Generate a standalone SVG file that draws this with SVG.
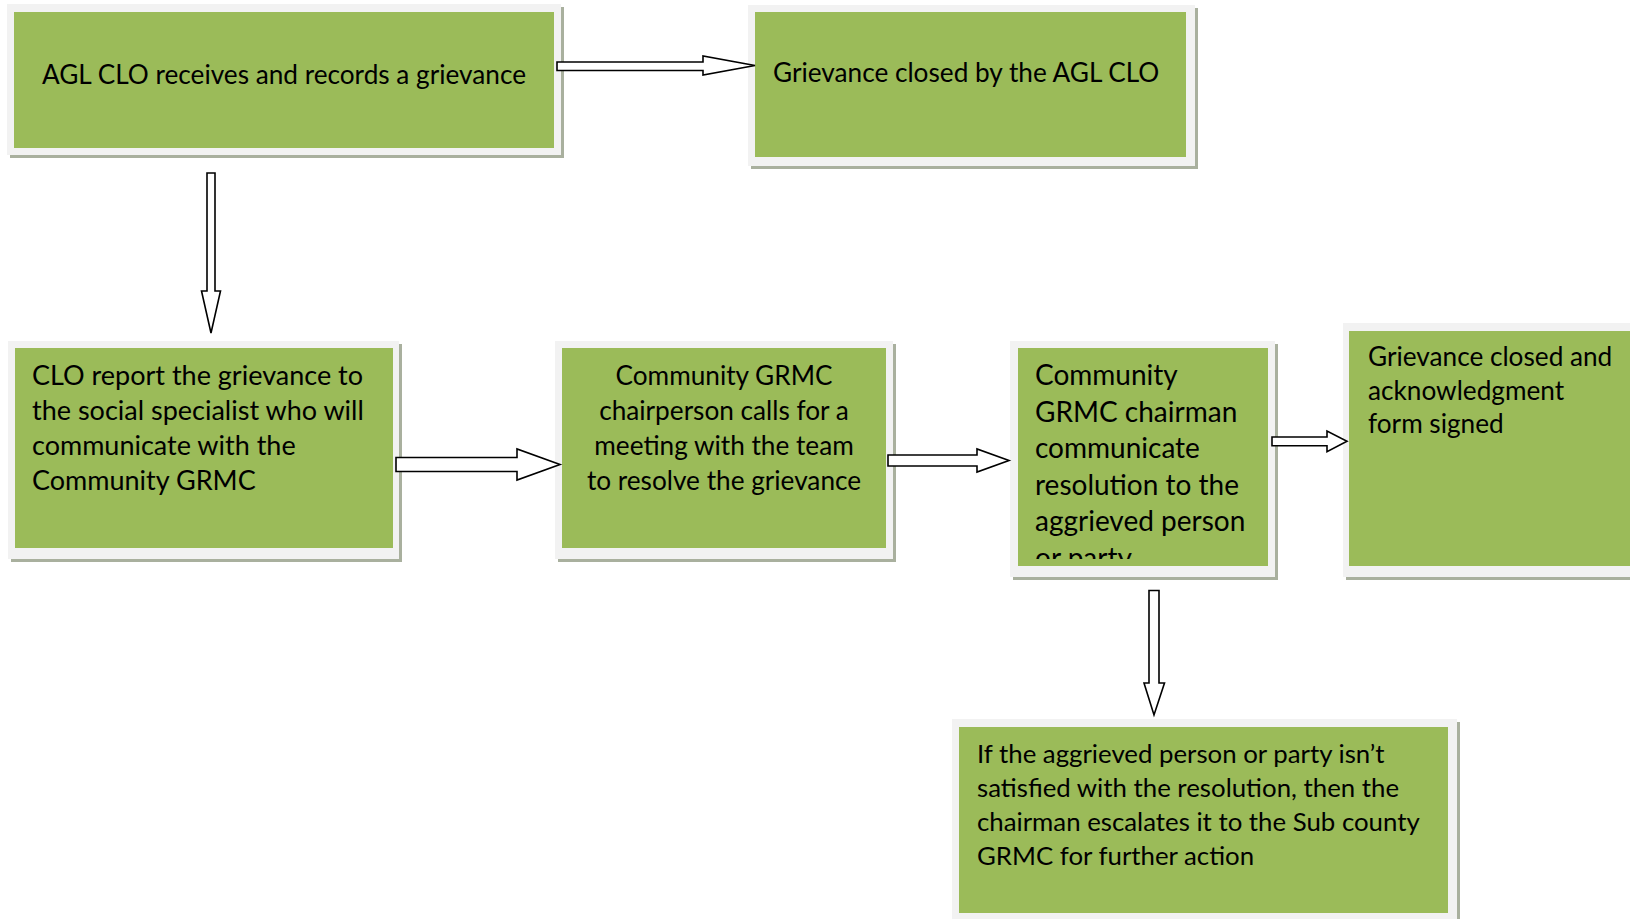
<svg xmlns="http://www.w3.org/2000/svg" width="1630" height="919" viewBox="0 0 1630 919">
<style>
.shadow{fill:#a9b09e}
.frame{fill:#f2f2f2}
.fill{fill:#9bbb59}
.txt{font-family:Lato,"Liberation Sans",sans-serif;font-size:26.2px;fill:#000}
.big{font-size:28px}
.mid{font-size:27px}
.sm{font-size:25.8px}
.arrow{fill:#fff;stroke:#000;stroke-width:1.6;stroke-linejoin:miter}
</style>
<defs>
<clipPath id="clip5"><rect x="1018" y="348" width="250" height="211"/></clipPath>
</defs>
<rect width="1630" height="919" fill="#fff"/>
<g id="node-receive">
<rect class="shadow" x="10" y="7" width="554" height="151"/>
<rect class="frame" x="7" y="4" width="554" height="151"/>
<rect class="fill" x="14" y="12" width="540" height="136"/>
<text class="txt" x="284" y="84" text-anchor="middle">AGL CLO receives and records a grievance</text>
</g>
<g id="node-closed-clo">
<rect class="shadow" x="751" y="8" width="447" height="161"/>
<rect class="frame" x="748" y="5" width="447" height="161"/>
<rect class="fill" x="755" y="12" width="431" height="145"/>
<text class="txt" x="773" y="82">Grievance closed by the AGL CLO</text>
</g>
<g id="node-report">
<rect class="shadow" x="11" y="344" width="391" height="218"/>
<rect class="frame" x="8" y="341" width="391" height="218"/>
<rect class="fill" x="15" y="348" width="378" height="200"/>
<text class="txt mid"><tspan x="32" y="385">CLO report the grievance to</tspan><tspan x="32" y="420">the social specialist who will</tspan><tspan x="32" y="455">communicate with the</tspan><tspan x="32" y="490">Community GRMC</tspan></text>
</g>
<g id="node-meeting">
<rect class="shadow" x="558" y="344" width="338" height="218"/>
<rect class="frame" x="555" y="341" width="338" height="218"/>
<rect class="fill" x="562" y="348" width="324" height="200"/>
<text class="txt" text-anchor="middle"><tspan x="724" y="385">Community GRMC</tspan><tspan x="724" y="420">chairperson calls for a</tspan><tspan x="724" y="455">meeting with the team</tspan><tspan x="724" y="490">to resolve the grievance</tspan></text>
</g>
<g id="node-communicate">
<rect class="shadow" x="1013" y="344" width="265" height="236"/>
<rect class="frame" x="1010" y="341" width="265" height="236"/>
<rect class="fill" x="1018" y="348" width="250" height="218"/>
<g clip-path="url(#clip5)">
<text class="txt big"><tspan x="1035" y="385">Community</tspan><tspan x="1035" y="421.5">GRMC chairman</tspan><tspan x="1035" y="458">communicate</tspan><tspan x="1035" y="494.5">resolution to the</tspan><tspan x="1035" y="531">aggrieved person</tspan><tspan x="1035" y="567.5">or party</tspan></text>
</g>
</g>
<g id="node-closed-signed">
<rect class="shadow" x="1346" y="326" width="290" height="254"/>
<rect class="frame" x="1343" y="323" width="290" height="254"/>
<rect class="fill" x="1349" y="331" width="285" height="235"/>
<text class="txt"><tspan x="1368" y="366">Grievance closed and</tspan><tspan x="1368" y="399.5">acknowledgment</tspan><tspan x="1368" y="433">form signed</tspan></text>
</g>
<g id="node-escalate">
<rect class="shadow" x="955" y="722" width="505" height="205"/>
<rect class="frame" x="952" y="719" width="505" height="205"/>
<rect class="fill" x="959" y="727" width="489" height="186"/>
<text class="txt sm"><tspan x="977" y="763">If the aggrieved person or party isn’t</tspan><tspan x="977" y="797">satisfied with the resolution, then the</tspan><tspan x="977" y="831">chairman escalates it to the Sub county</tspan><tspan x="977" y="865">GRMC for further action</tspan></text>
</g>
<g id="connectors">
<polygon class="arrow" points="557,62 703,62 703,56 755,65.5 703,75 703,70.5 557,70.5"/>
<polygon class="arrow" points="207,173 215,173 215,291 220.5,291 211,333 201.5,291 207,291"/>
<polygon class="arrow" points="396,457.5 517,457.5 517,449 560,464.5 517,480 517,471.5 396,471.5"/>
<polygon class="arrow" points="888,455 977,455 977,449 1009,460.5 977,472 977,466 888,466"/>
<polygon class="arrow" points="1272,437 1327,437 1327,431 1347,441.3 1327,451.7 1327,445.7 1272,445.7"/>
<polygon class="arrow" points="1149,590.5 1159,590.5 1159,683 1164.5,683 1154,715 1144,683 1149,683"/>
</g>
</svg>
